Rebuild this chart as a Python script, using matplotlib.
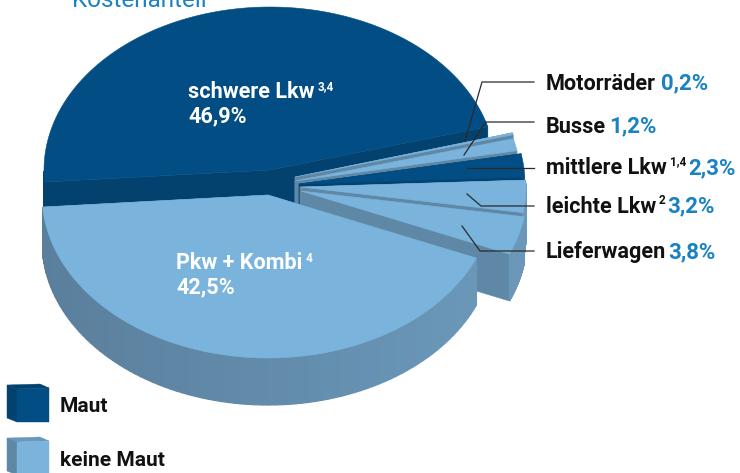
"""Exploded pseudo-3D pie: Kostenanteil by vehicle class, Maut vs keine Maut."""

import numpy as np
import matplotlib
matplotlib.use("Agg")
import matplotlib.pyplot as plt
from matplotlib.colors import to_rgb
from matplotlib.patches import Polygon

plt.rcParams["font.family"] = ["Roboto", "DejaVu Sans"]

labels = ["schwere Lkw", "Motorräder", "Busse", "mittlere Lkw", "leichte Lkw", "Lieferwagen", "Pkw + Kombi"]
shares = [46.9, 0.2, 1.2, 2.3, 3.2, 3.8, 42.5]
maut = [True, False, False, True, False, False, False]
notes = ["3,4", "", "", "1,4", "2", "", "4"]
value_text = ["46,9%", "0,2%", "1,2%", "2,3%", "3,2%", "3,8%", "42,5%"]

DARK, DARK_WALL = "#024d84", "#03426f"
LIGHT, LIGHT_WALL = "#7ab4dc", "#5f88a6"
RIM_LEFT, RIM_RIGHT = "#5a7f9c", "#6b98ba"
BLUE = "#1a82c3"

A, B, DEPTH = 226, 163, 47
START = 15.4  # where the first slice begins, counter-clockwise from 3 o'clock
# slice centres in pixels, each slice is pulled out a little differently
CENTRES = [(270, 170), (295, 177), (295, 181), (299, 184), (300, 187), (301, 191), (268, 195)]

fig = plt.figure(figsize=(7.40, 4.73), dpi=100)
ax = fig.add_axes([0, 0, 1, 1])
ax.set_xlim(0, 740)
ax.set_ylim(473, 0)
ax.axis("off")


def arc(c, t0, t1, n=90):
    t = np.radians(np.linspace(t0, t1, n))
    return t, np.column_stack([c[0] + A * np.cos(t), c[1] - B * np.sin(t)])


def rim_colour(t):
    # rim gets a bit lighter from left to right, as in a soft side light
    f = np.clip((np.cos(t) + 1) / 2, 0, 1)
    return (1 - f) * np.array(to_rgb(RIM_LEFT)) + f * np.array(to_rgb(RIM_RIGHT))


def draw_slice(c, t0, t1, top, wall, shaded, z):
    t, pts = arc(c, t0, t1)
    apex = np.array(c, float)
    down = np.array([0, DEPTH])
    for end in (pts[0], pts[-1]):
        ax.add_patch(Polygon([apex, end, end + down, apex + down], fc=wall, ec=wall, lw=0.3, zorder=z))
    # outer rim, only where it faces the viewer
    for i in range(len(pts) - 1):
        if np.sin(t[i]) < 0.02:
            col = rim_colour(t[i]) if shaded else wall
            quad = [pts[i], pts[i + 1], pts[i + 1] + down, pts[i] + down]
            ax.add_patch(Polygon(quad, fc=col, ec=col, lw=0.9, zorder=z + 0.1))
    ax.add_patch(Polygon(np.vstack([apex, pts]), fc=top, ec=top, lw=0.4, zorder=z + 0.2))


# counter-clockwise round the pie, drawn afterwards back to front
angle = START
edges = {}
for i in [0, 6, 5, 4, 3, 2, 1]:
    edges[i] = (angle, angle + shares[i] * 3.6)
    angle += shares[i] * 3.6
for i in range(len(shares)):
    top = DARK if maut[i] else LIGHT
    wall = DARK_WALL if maut[i] else LIGHT_WALL
    draw_slice(CENTRES[i], edges[i][0], edges[i][1], top, wall, not maut[i], 2 + i)

renderer = fig.canvas.get_renderer()

# callouts
names_y = [83.5, 126.5, 168, 206.5, 252]
gaps = [5, 3, 4, 3, 2]
leader_pts = [
    [(465, 141), (482, 82), (534, 82)],
    [(464, 155), (486, 122), (534, 122)],
    [(467, 168), (534, 168)],
    [(467, 194), (481, 206), (534, 206)],
    [(462, 226), (480, 251), (534, 251)],
]
FS = 15.6
for k, i in enumerate(range(1, 6)):
    y = names_y[k]
    ax.plot(*zip(*leader_pts[k]), color="#2a2a2a", lw=0.9, zorder=20)
    t = ax.text(546, y, labels[i], fontsize=FS, fontweight="bold", color="#111111", va="center")
    x = t.get_window_extent(renderer).x1 + gaps[k]
    if notes[i]:
        n = ax.text(x - 1, y - 6, notes[i], fontsize=8.5, fontweight="bold", color="#111111", va="center")
        x = n.get_window_extent(renderer).x1 + 2
    ax.text(x, y, value_text[i], fontsize=16, fontweight="bold", color=BLUE, va="center")

for i, (px, py) in [(0, (188, 92)), (6, (176, 263))]:
    t = ax.text(px, py, labels[i], fontsize=FS, fontweight="bold", color="white", va="center", zorder=20)
    x = t.get_window_extent(renderer).x1 + 3
    ax.text(x, py - 5, notes[i], fontsize=8.5, fontweight="bold", color="white", va="center", zorder=20)
    ax.text(px, py + 24.5, value_text[i], fontsize=FS, fontweight="bold", color="white", va="center", zorder=20)

ax.text(72, 7, "Kostenanteil", fontsize=17.5, color=BLUE, va="baseline")


def legend_cube(x, y, front, side, top, name, text_y):
    ax.add_patch(Polygon([(x, y + 1), (x + 33, y), (x + 42, y + 4), (x + 10, y + 5)], fc=top, ec=top, lw=0.3))
    ax.add_patch(Polygon([(x, y + 1), (x + 10, y + 5), (x + 10, y + 38), (x, y + 34)], fc=side, ec=side, lw=0.3))
    ax.add_patch(Polygon([(x + 10, y + 5), (x + 42, y + 4), (x + 42, y + 38), (x + 10, y + 38)], fc=front, ec=front, lw=0.3))
    ax.text(60, text_y, name, fontsize=15, fontweight="bold", color="#111111", va="center")


legend_cube(7, 384, DARK, DARK_WALL, DARK_WALL, "Maut", 406)
legend_cube(7, 437, LIGHT, LIGHT_WALL, RIM_RIGHT, "keine Maut", 460)

fig.savefig("out.png", dpi=100)
